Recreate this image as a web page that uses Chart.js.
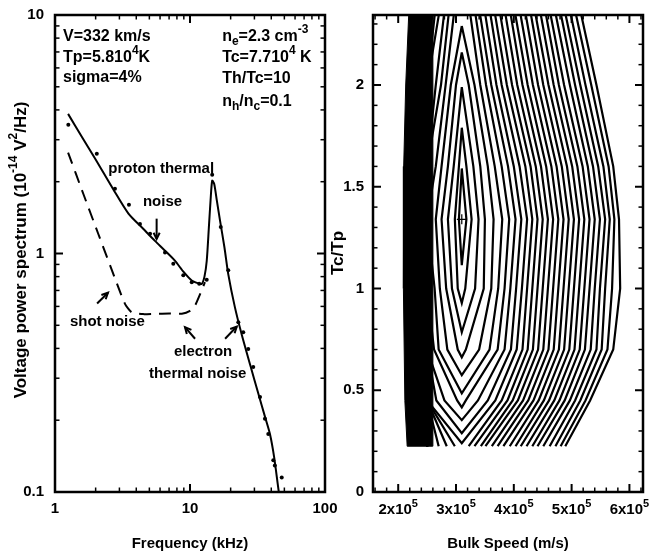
<!DOCTYPE html>
<html><head><meta charset="utf-8">
<script src="https://cdn.jsdelivr.net/npm/chart.js@4.4.0/dist/chart.umd.min.js"></script>
<style>
html,body{margin:0;padding:0;background:#fff;}
#wrap{position:relative;width:664px;height:554px;}
canvas{position:absolute;left:0;top:0;}
</style></head><body>
<div id="wrap"><canvas id="left" width="664" height="554"></canvas><canvas id="right" width="664" height="554"></canvas></div>
<script>
// ---------- Left panel: voltage power spectrum ----------
const freqTicks = [1, 10, 100];
const powerTicks = [0.1, 1, 10];
const solidFreq  = [1.25, 1.6, 2.0, 2.7, 3.5, 4.5, 5.5, 6.5, 7.7, 9.0, 10.3, 11.5, 12.2, 12.8, 13.3, 13.8, 14.2, 14.6, 15.1, 15.8, 16.7, 18.0, 19.2, 21.5, 24.1, 28.0, 32.1, 36.0, 39.1, 42.0, 45.5, 46.5];
const solidPower = [3.85, 3.05, 2.48, 1.86, 1.47, 1.27, 1.13, 1.03, 0.935, 0.835, 0.77, 0.75, 0.745, 0.80, 0.93, 1.29, 1.67, 2.02, 1.96, 1.67, 1.37, 1.06, 0.82, 0.596, 0.46, 0.339, 0.258, 0.206, 0.175, 0.14, 0.10, 0.094];
const shotFreq   = [1.25, 1.62, 2.09, 2.75, 3.3, 3.7, 4.5, 5.5, 7.0, 8.7, 10.0, 10.9, 12.2, 12.9];
const shotPower  = [2.65, 1.78, 1.21, 0.80, 0.615, 0.567, 0.557, 0.559, 0.56, 0.559, 0.575, 0.605, 0.70, 0.758];
const measFreq   = [1.255, 2.04, 2.78, 3.53, 4.26, 5.06, 6.53, 7.52, 8.92, 10.3, 11.7, 13.3, 14.6, 16.9, 19.2, 22.8, 24.8, 27.0, 29.4, 33.0, 35.9, 38.0, 41.4, 42.5, 47.8];
const measPower  = [3.47, 2.62, 1.87, 1.60, 1.33, 1.21, 1.01, 0.905, 0.81, 0.758, 0.746, 0.776, 2.14, 1.29, 0.85, 0.515, 0.468, 0.398, 0.334, 0.25, 0.203, 0.175, 0.136, 0.129, 0.115];

// ---------- Right panel: chi-square contours (speed in units of 1e5 m/s) ----------
const SPEED_UNIT = 1e5;
const speedTicks = [2, 3, 4, 5, 6];
const ratioTicks = [0, 0.5, 1, 1.5, 2];
const bestSpeed = 3.10, bestRatio = 1.34;
const tipSpeed = 3.10;
const topTipRatio    = [1.59, 1.79, 1.99, 2.16, 2.29];
const bottomTipRatio = [1.115, 0.928, 0.785, 0.662, 0.574, 0.485, 0.416, 0.353, 0.289, 0.240];
const contourRows = [2.34, 2.0, 1.6, 1.34, 1.0, 0.7, 0.45, 0.225];
const N = null;
const right_234 = [N,N,N,N,N, 3.25,3.34,3.42,3.51,3.60,3.68,3.77,3.86,3.95,4.03,4.12,4.21,4.30,4.38,4.47,4.56,4.64,4.73,4.82,4.90,4.99,5.08,5.17];
const right_200 = [N,N,N, 3.22,3.32,3.42,3.52,3.61,3.70,3.79,3.88,3.97,4.06,4.15,4.24,4.33,4.42,4.51,4.60,4.69,4.78,4.87,4.97,5.06,5.15,5.24,5.34,5.43];
const right_160 = [N, 3.18,3.30,3.42,3.55,3.67,3.79,3.90,4.00,4.10,4.20,4.29,4.38,4.47,4.56,4.65,4.74,4.83,4.92,5.01,5.10,5.19,5.28,5.37,5.46,5.55,5.64,5.72];
const right_134 = [3.18,3.27,3.39,3.50,3.65,3.80,3.92,4.03,4.13,4.23,4.32,4.41,4.50,4.59,4.68,4.77,4.86,4.95,5.04,5.13,5.22,5.31,5.40,5.49,5.58,5.66,5.74,5.82];
const right_100 = [N, 3.16,3.33,3.48,3.61,3.73,3.84,3.94,4.04,4.14,4.23,4.32,4.41,4.50,4.59,4.68,4.77,4.86,4.95,5.04,5.13,5.22,5.31,5.40,5.49,5.58,5.70,5.84];
const right_070 = [N,N,N, 3.17,3.40,3.58,3.72,3.84,3.95,4.05,4.15,4.24,4.33,4.42,4.51,4.60,4.69,4.78,4.87,4.96,5.05,5.14,5.23,5.33,5.43,5.52,5.62,5.72];
const right_045 = [N,N,N,N,N,N, 3.17,3.38,3.55,3.68,3.79,3.89,3.98,4.07,4.16,4.25,4.34,4.43,4.52,4.61,4.70,4.79,4.88,4.97,5.06,5.15,5.24,5.32];
const right_0225= [N,N,N,N,N,N,N,N,N,N, 3.22,3.32,3.43,3.51,3.62,3.72,3.82,3.93,4.03,4.12,4.22,4.32,4.41,4.51,4.62,4.72,4.81,4.89];
const left_234 = [N,N,N,N,N, 2.96,2.87,2.79,2.70,2.63, 2.5,2.5,2.5,2.5,2.5,2.5,2.5,2.5,2.5,2.5,2.5,2.5,2.5,2.5,2.5,2.5,2.5,2.5];
const left_200 = [N,N,N, 3.00,2.91,2.82,2.74,2.65, 2.5,2.5,2.5,2.5,2.5,2.5,2.5,2.5,2.5,2.5,2.5,2.5,2.5,2.5,2.5,2.5,2.5,2.5,2.5,2.5];
const left_160 = [N, 3.05,2.96,2.86,2.75,2.65, 2.5,2.5,2.5,2.5,2.5,2.5,2.5,2.5,2.5,2.5,2.5,2.5,2.5,2.5,2.5,2.5,2.5,2.5,2.5,2.5,2.5,2.5];
const left_134 = [3.05,2.98,2.86,2.75,2.65, 2.5,2.5,2.5,2.5,2.5,2.5,2.5,2.5,2.5,2.5,2.5,2.5,2.5,2.5,2.5,2.5,2.5,2.5,2.5,2.5,2.5,2.5,2.5];
const left_100 = [N, 3.03,2.93,2.83,2.72,2.63, 2.5,2.5,2.5,2.5,2.5,2.5,2.5,2.5,2.5,2.5,2.5,2.5,2.5,2.5,2.5,2.5,2.5,2.5,2.5,2.5,2.5,2.5];
const left_070 = [N,N,N, 3.03,2.85,2.70,2.62, 2.5,2.5,2.5,2.5,2.5,2.5,2.5,2.5,2.5,2.5,2.5,2.5,2.5,2.5,2.5,2.5,2.5,2.5,2.5,2.5,2.5];
const left_045 = [N,N,N,N,N,N, 3.02,2.80,2.66, 2.5,2.5,2.5,2.5,2.5,2.5,2.5,2.5,2.5,2.5,2.5,2.5,2.5,2.5,2.5,2.5,2.5,2.5,2.5];
const left_0225= [N,N,N,N,N,N,N,N,N,N, 2.98,2.84,2.70, 2.5,2.5,2.5,2.5,2.5,2.5,2.5,2.5,2.5,2.5,2.5,2.5,2.5,2.5,2.5];
const bandSpeed = [2.184, 2.13, 2.095, 2.09, 2.115, 2.155, 2.59, 2.60];
const bandRatio = [2.36, 2.0, 1.6, 1.0, 0.45, 0.225, 0.225, 2.36];

const rightRows = [right_234, right_200, right_160, right_134, right_100, right_070, right_045, right_0225];
const leftRows  = [left_234, left_200, left_160, left_134, left_100, left_070, left_045, left_0225];

// ---------- text helpers ----------
const FONT = '"Liberation Sans", Arial, sans-serif';
function fnt(sz){ return 'bold ' + sz + 'px ' + FONT; }
function segSize(s, size){ return (s.sup || s.sub) ? Math.round(size * 0.72) : size; }
function richWidth(ctx, segs, size){
  let w = 0;
  for (const s of segs){ ctx.font = fnt(segSize(s, size)); w += ctx.measureText(s.t).width; }
  return w;
}
function drawRich(ctx, segs, x, y, align, size){
  const w = richWidth(ctx, segs, size);
  let cx = align === 'center' ? x - w / 2 : (align === 'right' ? x - w : x);
  ctx.textBaseline = 'middle'; ctx.textAlign = 'left'; ctx.fillStyle = '#000';
  for (const s of segs){
    ctx.font = fnt(segSize(s, size));
    const dy = s.sup ? -size * 0.42 : (s.sub ? size * 0.32 : 0);
    ctx.fillText(s.t, cx, y + dy);
    cx += ctx.measureText(s.t).width;
  }
}
function seg(t){ return {t}; }
function sup(t){ return {t, sup:true}; }
function sub(t){ return {t, sub:true}; }
function tickLine(ctx, x1, y1, x2, y2){ ctx.beginPath(); ctx.moveTo(x1, y1); ctx.lineTo(x2, y2); ctx.stroke(); }

// annotations for the left panel (anchored in data coordinates)
const leftNotes = [
  {segs:[seg('V=332 km/s')], f:1.146, v:8.13, align:'left', size:16},
  {segs:[seg('Tp=5.810'), sup('4'), seg('K')], f:1.146, v:6.63, align:'left', size:16},
  {segs:[seg('sigma=4%')], f:1.146, v:5.47, align:'left', size:16},
  {segs:[seg('n'), sub('e'), seg('=2.3 cm'), sup('-3')], f:17.3, v:8.13, align:'left', size:16},
  {segs:[seg('Tc=7.710'), sup('4'), seg(' K')], f:17.3, v:6.63, align:'left', size:16},
  {segs:[seg('Th/Tc=10')], f:17.3, v:5.42, align:'left', size:16},
  {segs:[seg('n'), sub('h'), seg('/n'), sub('c'), seg('=0.1')], f:17.3, v:4.34, align:'left', size:16},
  {segs:[seg('proton thermal')], f:2.48, v:2.27, align:'left', size:15},
  {segs:[seg('noise')], f:4.48, v:1.64, align:'left', size:15},
  {segs:[seg('shot noise')], f:1.29, v:0.515, align:'left', size:15},
  {segs:[seg('electron')], f:12.5, v:0.386, align:'center', size:15},
  {segs:[seg('thermal noise')], f:11.4, v:0.314, align:'center', size:15}
];
const leftArrows = [
  {from:[5.66, 1.40], to:[5.66, 1.15]},
  {from:[2.05, 0.617], to:[2.47, 0.685]},
  {from:[10.9, 0.439], to:[9.18, 0.491]},
  {from:[18.2, 0.439], to:[22.2, 0.494]}
];

function drawArrow(ctx, x1, y1, x2, y2){
  ctx.lineWidth = 2;
  tickLine(ctx, x1, y1, x2, y2);
  const ang = Math.atan2(y2 - y1, x2 - x1), L = 7, w = 0.45;
  ctx.beginPath();
  ctx.moveTo(x2 - L * Math.cos(ang - w), y2 - L * Math.sin(ang - w));
  ctx.lineTo(x2, y2);
  ctx.lineTo(x2 - L * Math.cos(ang + w), y2 - L * Math.sin(ang + w));
  ctx.stroke();
}

const leftAxes = {
  id: 'leftAxes',
  afterDraw(chart){
    const {ctx, chartArea: a, scales: {x, y}} = chart;
    ctx.save();
    ctx.strokeStyle = '#000';
    ctx.lineWidth = 2.5;
    ctx.strokeRect(a.left, a.top, a.right - a.left, a.bottom - a.top);
    for (const d of [1, 10]) for (let m = 1; m <= 9; m++){
      const px = x.getPixelForValue(d * m), L = m === 1 ? 8 : 4.5;
      ctx.lineWidth = m === 1 ? 2 : 1.5;
      tickLine(ctx, px, a.bottom, px, a.bottom - L);
      tickLine(ctx, px, a.top, px, a.top + L);
    }
    for (const d of [0.1, 1]) for (let m = 1; m <= 9; m++){
      const py = y.getPixelForValue(d * m), L = m === 1 ? 8 : 4.5;
      ctx.lineWidth = m === 1 ? 2 : 1.5;
      tickLine(ctx, a.left, py, a.left + L, py);
      tickLine(ctx, a.right, py, a.right - L, py);
    }
    for (const t of freqTicks) drawRich(ctx, [seg(String(t))], x.getPixelForValue(t), a.bottom + 17, 'center', 15);
    for (const t of powerTicks) drawRich(ctx, [seg(String(t))], a.left - 11, y.getPixelForValue(t), 'right', 15);
    drawRich(ctx, [seg('Frequency (kHz)')], (a.left + a.right) / 2, 544, 'center', 15);
    ctx.save();
    ctx.translate(21, 250);
    ctx.rotate(-Math.PI / 2);
    drawRich(ctx, [seg('Voltage power spectrum (10'), sup('-14'), seg(' V'), sup('2'), seg('/Hz)')], 0, 0, 'center', 17);
    ctx.restore();
    for (const n of leftNotes) drawRich(ctx, n.segs, x.getPixelForValue(n.f), y.getPixelForValue(n.v), n.align, n.size);
    ctx.strokeStyle = '#000';
    for (const ar of leftArrows)
      drawArrow(ctx, x.getPixelForValue(ar.from[0]), y.getPixelForValue(ar.from[1]), x.getPixelForValue(ar.to[0]), y.getPixelForValue(ar.to[1]));
    ctx.restore();
  }
};

new Chart(document.getElementById('left'), {
  type: 'line',
  data: {datasets: [
    {data: solidFreq.map((f, i) => ({x: f, y: solidPower[i]})), borderColor: '#000', borderWidth: 2, pointRadius: 0, tension: 0.25},
    {data: shotFreq.map((f, i) => ({x: f, y: shotPower[i]})), borderColor: '#000', borderWidth: 2, borderDash: [12, 8], pointRadius: 0, tension: 0.2},
    {data: measFreq.map((f, i) => ({x: f, y: measPower[i]})), showLine: false, pointRadius: 2, pointBackgroundColor: '#000', pointBorderWidth: 0, borderColor: '#000'}
  ]},
  options: {
    responsive: false, animation: false, devicePixelRatio: 1,
    layout: {padding: {left: 55, right: 339, top: 15, bottom: 62}},
    scales: {
      x: {type: 'logarithmic', display: false, min: 1, max: 100},
      y: {type: 'logarithmic', display: false, min: 0.1, max: 10}
    },
    plugins: {legend: {display: false}, tooltip: {enabled: false}}
  },
  plugins: [leftAxes]
});

// ---------- right panel ----------
function contourPath(k){
  const pts = [];
  const top = topTipRatio[k], bot = bottomTipRatio[k];
  if (top != null) pts.push({x: tipSpeed * SPEED_UNIT, y: top});
  contourRows.forEach((r, i) => { const v = leftRows[i][k]; if (v != null) pts.push({x: v * SPEED_UNIT, y: r}); });
  if (bot != null) pts.push({x: tipSpeed * SPEED_UNIT, y: bot});
  else pts.push({x: tipSpeed * SPEED_UNIT, y: null});
  for (let i = contourRows.length - 1; i >= 0; i--){ const v = rightRows[i][k]; if (v != null) pts.push({x: v * SPEED_UNIT, y: contourRows[i]}); }
  if (top != null) pts.push({x: tipSpeed * SPEED_UNIT, y: top});
  return pts;
}
const contourSets = [];
for (let k = 0; k < right_134.length; k++){
  contourSets.push({data: contourPath(k), borderColor: '#000', borderWidth: 2.2, pointRadius: 0, tension: 0, spanGaps: false, fill: false});
}

const rightAxes = {
  id: 'rightAxes',
  afterDraw(chart){
    const {ctx, chartArea: a, scales: {x, y}} = chart;
    ctx.save();
    ctx.strokeStyle = '#000';
    ctx.lineWidth = 2.5;
    ctx.strokeRect(a.left, a.top, a.right - a.left, a.bottom - a.top);
    for (let s = 16; s <= 62; s += 2){
      const v = s / 10, px = x.getPixelForValue(v * SPEED_UNIT), major = s % 10 === 0, L = major ? 8 : 4.5;
      ctx.lineWidth = major ? 2 : 1.5;
      tickLine(ctx, px, a.bottom, px, a.bottom - L);
      tickLine(ctx, px, a.top, px, a.top + L);
    }
    for (let s = 0; s <= 23; s++){
      const py = y.getPixelForValue(s / 10), major = s % 5 === 0, L = major ? 8 : 4.5;
      ctx.lineWidth = major ? 2 : 1.5;
      tickLine(ctx, a.left, py, a.left + L, py);
      tickLine(ctx, a.right, py, a.right - L, py);
    }
    for (const t of speedTicks) drawRich(ctx, [seg(t + 'x10'), sup('5')], x.getPixelForValue(t * SPEED_UNIT), a.bottom + 18, 'center', 15);
    for (const t of ratioTicks) drawRich(ctx, [seg(String(t))], a.left - 9, y.getPixelForValue(t), 'right', 15);
    drawRich(ctx, [seg('Bulk Speed (m/s)')], (a.left + a.right) / 2, 544, 'center', 15);
    ctx.save();
    ctx.translate(338, 253);
    ctx.rotate(-Math.PI / 2);
    drawRich(ctx, [seg('Tc/Tp')], 0, 0, 'center', 17);
    ctx.restore();
    ctx.restore();
  }
};

new Chart(document.getElementById('right'), {
  type: 'line',
  data: {datasets: [
    {data: bandSpeed.map((s, i) => ({x: s * SPEED_UNIT, y: bandRatio[i]})), borderColor: '#000', borderWidth: 1, backgroundColor: '#000', fill: 'shape', pointRadius: 0, tension: 0},
    ...contourSets,
    {data: [{x: bestSpeed * SPEED_UNIT, y: bestRatio}], showLine: false, pointStyle: 'cross', pointRadius: 5, borderColor: '#000', pointBorderWidth: 1.2}
  ]},
  options: {
    responsive: false, animation: false, devicePixelRatio: 1,
    layout: {padding: {left: 373, right: 21, top: 15, bottom: 62}},
    scales: {
      x: {type: 'linear', display: false, min: 1.564e5, max: 6.235e5},
      y: {type: 'linear', display: false, min: 0, max: 2.344}
    },
    plugins: {legend: {display: false}, tooltip: {enabled: false}}
  },
  plugins: [rightAxes]
});
</script>
</body></html>
